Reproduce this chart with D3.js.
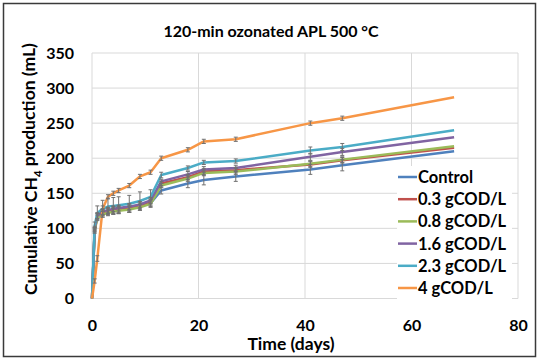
<!DOCTYPE html>
<html><head><meta charset="utf-8">
<script src="https://cdn.jsdelivr.net/npm/d3@7"></script>
<style>html,body{margin:0;padding:0;background:#fff;}svg{display:block;}</style>
</head><body>
<script>
const days = [0, 0.5, 1, 2, 3, 4, 5, 7, 9, 11, 13, 18, 21, 27, 41, 47, 68];
const seriesNames = ["Control", "0.3 gCOD/L", "0.8 gCOD/L", "1.6 gCOD/L", "2.3 gCOD/L", "4 gCOD/L"];
const control = [0, 98, 118, 123, 125, 126, 127, 129, 132, 136, 154, 164, 169, 174, 184, 190, 210];
const cod03   = [0, 98, 117, 122, 124, 126, 127, 129, 132, 137, 164, 173, 181, 183, 191, 197, 215];
const cod08   = [0, 96, 115, 120, 122, 124, 125, 127, 130, 135, 161, 171, 179, 181, 192, 198, 217];
const cod16   = [0, 100, 118, 124, 126, 128, 129, 131, 134, 140, 167, 177, 184, 186, 202, 209, 230];
const cod23   = [0, 104, 122, 128, 131, 132, 133, 135, 139, 145, 176, 186, 194, 196, 211, 216, 240];
const cod4    = [0, 25, 57, 128, 145, 150, 154, 161, 174, 180, 200, 212, 224, 227, 250, 257, 287];
const errControl = [0, 3, 4, 4, 4, 5, 5, 6, 6, 6, 5, 6, 7, 7, 7, 8, 0];
const err03      = [0, 3, 4, 4, 4, 4, 4, 4, 4, 4, 3, 4, 4, 4, 4, 4, 0];
const err08      = [0, 3, 4, 4, 4, 4, 4, 4, 4, 4, 3, 4, 4, 4, 4, 4, 0];
const err16      = [0, 3, 4, 4, 4, 4, 4, 4, 4, 4, 3, 4, 4, 4, 5, 5, 0];
const err23      = [0, 5, 10, 12, 12, 12, 12, 12, 13, 10, 4, 3, 3, 3, 5, 5, 0];
const err4       = [0, 3, 4, 4, 3, 3, 3, 3, 3, 3, 3, 3, 3, 3, 3, 3, 0];
const xTicks = [0, 20, 40, 60, 80];
const yTicks = [0, 50, 100, 150, 200, 250, 300, 350];
const colors = ["#4F81BD", "#C0504D", "#9BBB59", "#8064A2", "#4BACC6", "#F79646"];

const values = [control, cod03, cod08, cod16, cod23, cod4];
const errors = [errControl, err03, err08, err16, err23, err4];

const W = 539, H = 360;
const svg = d3.select("body").append("svg").attr("width", W).attr("height", H);
const font = "Lato, 'Open Sans', sans-serif";

svg.append("rect").attr("x", 3.5).attr("y", 3.5).attr("width", W - 7).attr("height", H - 7)
  .attr("fill", "#fff").attr("stroke", "#3a3a3a").attr("stroke-width", 1.5);

const x = d3.scaleLinear().domain([0, 80]).range([92, 518]);
const y = d3.scaleLinear().domain([0, 350]).range([298.5, 53]);

// grid
const g = svg.append("g");
g.selectAll(".hg").data(yTicks).enter().append("line")
  .attr("x1", x(0)).attr("x2", x(80)).attr("y1", d => y(d)).attr("y2", d => y(d))
  .attr("stroke", "#d9d9d9").attr("stroke-width", 1);
g.selectAll(".vg").data(xTicks).enter().append("line")
  .attr("y1", y(0)).attr("y2", y(350)).attr("x1", d => x(d)).attr("x2", d => x(d))
  .attr("stroke", "#d9d9d9").attr("stroke-width", 1);

// axes labels via d3 axes
const xAxis = svg.append("g").attr("transform", `translate(0,${y(0) + 21})`)
  .call(d3.axisBottom(x).tickValues(xTicks).tickSize(0).tickPadding(0));
xAxis.select(".domain").remove();
xAxis.selectAll("text").attr("font-family", font).attr("font-weight", "bold")
  .attr("font-size", 16).attr("fill", "#000");

const yAxis = svg.append("g").attr("transform", `translate(${x(0) - 18},0)`)
  .call(d3.axisLeft(y).tickValues(yTicks).tickSize(0).tickPadding(0));
yAxis.select(".domain").remove();
yAxis.selectAll("text").attr("font-family", font).attr("font-weight", "bold")
  .attr("font-size", 16).attr("fill", "#000");

// series
const line = d3.line().x((d, i) => x(days[i])).y(d => y(d));
values.forEach((vals, s) => {
  svg.append("path").datum(vals).attr("d", line)
    .attr("fill", "none").attr("stroke", colors[s]).attr("stroke-width", 2.5)
    .attr("stroke-linejoin", "round");
});
// error bars
values.forEach((vals, s) => {
  const eg = svg.append("g").attr("stroke", "#707070").attr("stroke-width", 1);
  vals.forEach((v, i) => {
    const e = errors[s][i];
    if (!e) return;
    const cx = x(days[i]);
    eg.append("line").attr("x1", cx).attr("x2", cx).attr("y1", y(v - e)).attr("y2", y(v + e));
    eg.append("line").attr("x1", cx - 2).attr("x2", cx + 2).attr("y1", y(v - e)).attr("y2", y(v - e));
    eg.append("line").attr("x1", cx - 2).attr("x2", cx + 2).attr("y1", y(v + e)).attr("y2", y(v + e));
  });
});

// legend
const lg = svg.append("g");
lg.append("rect").attr("x", 397).attr("y", 166).attr("width", 115).attr("height", 133).attr("fill", "#fff");
seriesNames.forEach((n, i) => {
  const cy = 177 + i * 22.2;
  lg.append("line").attr("x1", 398).attr("x2", 417).attr("y1", cy).attr("y2", cy)
    .attr("stroke", colors[i]).attr("stroke-width", 2.5);
  lg.append("text").attr("x", 418).attr("y", cy).attr("dy", "0.36em")
    .attr("font-family", font).attr("font-weight", "bold").attr("font-size", 16.5)
    .attr("fill", "#000").text(n);
});

// titles
svg.append("text").attr("x", 271).attr("y", 31).attr("dy", "0.36em").attr("text-anchor", "middle")
  .attr("font-family", font).attr("font-weight", "bold").attr("font-size", 16).attr("fill", "#000")
  .text("120-min ozonated APL 500 °C");
svg.append("text").attr("x", 291).attr("y", 344).attr("dy", "0.36em").attr("text-anchor", "middle")
  .attr("font-family", font).attr("font-weight", "bold").attr("font-size", 17.5).attr("fill", "#000")
  .text("Time (days)");
const yt = svg.append("text").attr("transform", `translate(31,169) rotate(-90)`).attr("dy", "0.36em")
  .attr("text-anchor", "middle").attr("font-family", font).attr("font-weight", "bold")
  .attr("font-size", 17.5).attr("fill", "#000");
yt.append("tspan").text("Cumulative CH");
yt.append("tspan").attr("font-size", 11.5).attr("dy", "0.45em").text("4");
yt.append("tspan").attr("dy", "-0.45em").text(" production (mL)");
</script>
</body></html>
